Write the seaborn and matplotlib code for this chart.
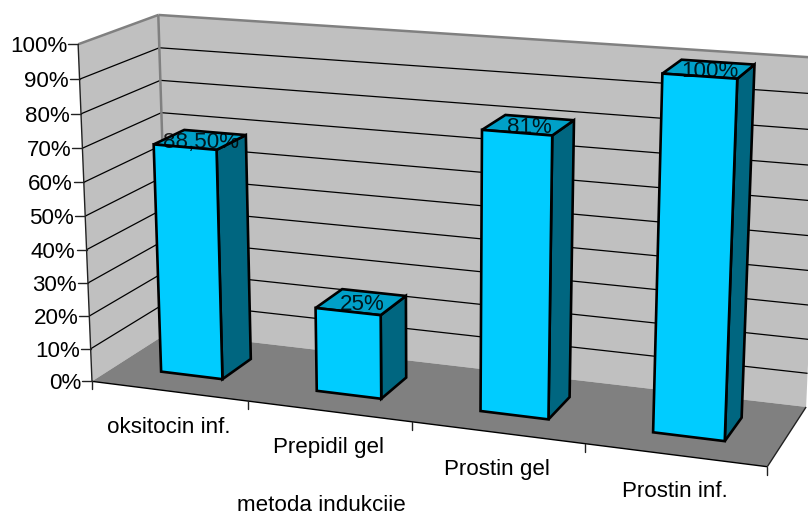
import numpy as np
import matplotlib
matplotlib.use("Agg")
import matplotlib.pyplot as plt
from matplotlib.patches import Polygon
from matplotlib.transforms import Affine2D, Transform
import seaborn as sns

# Data
methods = ["oksitocin inf.", "Prepidil gel", "Prostin gel", "Prostin inf."]
bar_heights = [69, 25, 81, 100]  # the first bar is drawn lower than its printed label says
bar_labels = ["88,50%", "25%", "81%", "100%"]
pct_ticks = list(range(0, 101, 10))

W, H = 808, 511
BAR_Z = (0.3, 0.7)
FONT = 16.1

# Reference points of the old Excel 3D box: (category, percent, depth) -> pixel
world_pts = [(0, 0, 0), (0, 100, 0), (0, 100, 1), (0, 0, 1), (4, 0, 0), (4, 0, 1), (4, 100, 1),
             (1, 0, 0), (2, 0, 0), (3, 0, 0), (3.7, 100, 0.3), (3.3, 100, 0.3)]
pixel_pts = [(92, 381), (78, 44), (158.5, 15.5), (168, 332), (767, 466), (806, 407), (822, 58),
             (248, 401), (412, 423), (585, 444), (737, 79), (662, 73)]


def fit_camera(world, pixel):
    rows = []
    for (x, y, z), (u, v) in zip(world, pixel):
        p = [x / 4, y / 100, z, 1]
        u, v = u / W, v / W
        rows.append(p + [0, 0, 0, 0] + [-u * c for c in p])
        rows.append([0, 0, 0, 0] + p + [-v * c for c in p])
    return np.linalg.svd(np.array(rows))[2][-1].reshape(3, 4)


CAM = fit_camera(world_pts, pixel_pts)


def project(x, y, z):
    x, y, z = np.broadcast_arrays(np.asarray(x, float), np.asarray(y, float), np.asarray(z, float))
    p = np.stack([x / 4, y / 100, z, np.ones_like(x)], axis=-1) @ CAM.T
    return p[..., :2] / p[..., 2:] * W


class DepthPlane(Transform):
    # category/percent coordinates of a seaborn axes -> pixels on a plane of constant depth
    input_dims = 2
    output_dims = 2

    def __init__(self, z):
        super().__init__()
        self.z = z

    def transform_non_affine(self, xy):
        xy = np.asarray(xy, float)
        return project(xy[..., 0] + 0.5, xy[..., 1], self.z)


sns.set_theme(style="white", font="Liberation Sans")
fig = plt.figure(figsize=(W / 100, H / 100), dpi=100)
ax = fig.add_axes([0, 0, 1, 1])
px = Affine2D().scale(1, -1).translate(0, H)

sns.barplot(x=methods, y=bar_heights, color="#00CCFF", saturation=1, width=0.4,
            edgecolor="black", linewidth=1.9, ax=ax, zorder=6)
ax.set_axis_off()


def face(*corners, **kw):
    ax.add_patch(Polygon(project(*np.array(corners).T), closed=True, transform=px, **kw))


def seg(a, b, **kw):
    pts = project(*np.array([a, b]).T)
    ax.plot(pts[:, 0], pts[:, 1], transform=px, solid_capstyle="butt", **kw)


# Walls and floor
face((0, 0, 0), (0, 100, 0), (0, 100, 1), (0, 0, 1), fc="#C0C0C0", ec="none", zorder=1)
face((0, 0, 1), (0, 100, 1), (4, 100, 1), (4, 0, 1), fc="#C0C0C0", ec="none", zorder=1)
face((0, 0, 0), (0, 0, 1), (4, 0, 1), (4, 0, 0), fc="#808080", ec="none", zorder=2)

# Gridlines
for p in pct_ticks[1:-1]:
    seg((0, p, 0), (0, p, 1), color="black", lw=0.9, zorder=3)
    seg((0, p, 1), (4, p, 1), color="black", lw=0.9, zorder=3)

# Wall borders and axis lines
seg((0, 100, 0), (0, 100, 1), color="#808080", lw=1.8, zorder=3)
seg((0, 100, 1), (4, 100, 1), color="#808080", lw=1.8, zorder=3)
seg((0, 0, 1), (0, 100, 1), color="#808080", lw=1.8, zorder=3)
seg((0, 0, 0), (0, 100, 0), color="#222222", lw=1.0, zorder=4)
seg((0, 0, 0), (4, 0, 0), color="black", lw=1.0, zorder=4)
seg((4, 0, 0), (4, 0, 1), color="#222222", lw=1.0, zorder=4)

# Value axis ticks
for p in pct_ticks:
    u, v = project(0, p, 0)
    ax.plot([u - 10, u], [v, v], transform=px, color="#222222", lw=1.0, zorder=4)
    ax.text(u - 11, v, f"{p}%", transform=px, ha="right", va="center_baseline",
            fontsize=FONT, color="black")

# Category ticks and labels
for i in range(5):
    u, v = project(i, 0, 0)
    ax.plot([u, u], [v, v + 8], transform=px, color="#222222", lw=1.0, zorder=4)
for i, name in enumerate(methods):
    u, v = project(i + 0.5, 0, 0)
    ax.text(u, v + 34, name, transform=px, ha="center", va="center_baseline", fontsize=FONT, color="black")

# Turn the flat seaborn bars into boxes
z0, z1 = BAR_Z
for rect, label in zip(list(ax.patches), bar_labels):
    x0 = rect.get_x() + 0.5
    x1 = x0 + rect.get_width()
    h = rect.get_height()
    rect.set_transform(DepthPlane(z0) + px)
    face((x1, 0, z0), (x1, 0, z1), (x1, h, z1), (x1, h, z0), fc="#006680", ec="black", lw=1.9, zorder=5)
    face((x0, h, z0), (x0, h, z1), (x1, h, z1), (x1, h, z0), fc="#00A0C8", ec="black", lw=1.9, zorder=5)
    u, v = project((x0 + x1) / 2, h, (z0 + z1) / 2)
    ax.text(u + 1, v, label, transform=px, ha="center", va="center_baseline", fontsize=FONT,
            color="black", zorder=7, alpha=0.85)

ax.text(321, 503, "metoda indukcije", transform=px, ha="center", va="center_baseline",
        fontsize=FONT, color="black")

fig.savefig("out.png")
